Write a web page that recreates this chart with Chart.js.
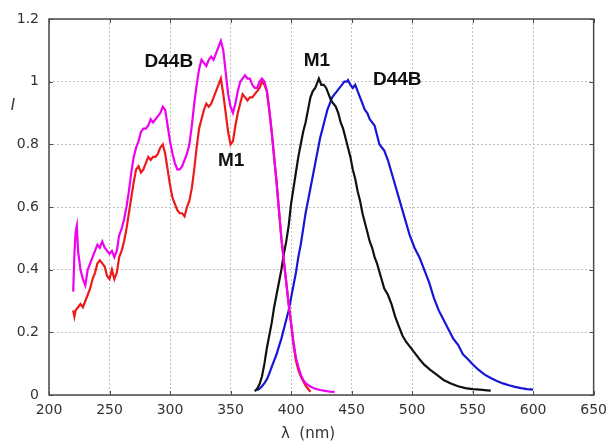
<!DOCTYPE html>
<html>
<head>
<meta charset="utf-8">
<script src="https://cdn.jsdelivr.net/npm/chart.js@4"></script>
<style>
    html, body { margin: 0; padding: 0; background: #fff; }
    #wrap { width: 614px; height: 443px; }
</style>
</head>
<body>
<div id="wrap"><canvas id="spectra" width="614" height="443"></canvas></div>
<script>
// M1 excitation (red)
const m1ExWl = [220,221,222,224,226,228,230,232,234,236,238,240,242,244,246,248,250,252,254,256,258,260,262,264,266,268,270,272,274,276,278,280,282,284,286,288,290,292,294,296,298,300,302,304,306,308,310,312,314,316,318,320,322,324,326,328,330,332,334,336,338,340,342,344,346,348,350,352,354,356,358,360,362,364,366,368,370,372,374,376,378,380,382,384,386,388,390,392,394,396,398,400,402,404,406,408,410,412,414,416];
const m1ExI = [0.27,0.25,0.27,0.28,0.29,0.28,0.30,0.32,0.34,0.37,
    0.39,0.42,0.43,0.42,0.41,0.38,0.37,0.40,0.37,0.39,
    0.44,0.46,0.49,0.53,0.58,0.63,0.68,0.72,0.73,0.71,
    0.72,0.74,0.76,0.75,0.76,0.76,0.77,0.79,0.80,0.77,
    0.72,0.67,0.63,0.61,0.59,0.58,0.58,0.57,0.60,0.62,
    0.66,0.72,0.79,0.85,0.88,0.91,0.93,0.92,0.93,0.95,
    0.97,0.99,1.01,0.96,0.90,0.84,0.80,0.81,0.86,0.90,
    0.93,0.96,0.95,0.94,0.95,0.95,0.96,0.97,0.98,1.00,
    0.99,0.97,0.91,0.84,0.76,0.68,0.59,0.50,0.43,0.36,
    0.29,0.23,0.16,0.11,0.08,0.06,0.045,0.03,0.02,0.01];

// D44B excitation (magenta)
const d44bExWl = [220,221,222,223,224,226,228,230,232,234,236,238,240,242,244,246,248,250,252,254,256,258,260,262,264,266,268,270,272,274,276,278,280,282,284,286,288,290,292,294,296,298,300,302,304,306,308,310,312,314,316,318,320,322,324,326,328,330,332,334,336,338,340,342,344,346,348,350,352,354,356,358,360,362,364,366,368,370,372,374,376,378,380,382,384,386,388,390,392,394,396,398,400,402,404,406,408,410,412,414,416,418,420,424,428,432,436];
const d44bExI = [0.33,0.45,0.52,0.54,0.46,0.40,0.37,0.35,0.40,0.42,
    0.44,0.46,0.48,0.47,0.49,0.47,0.46,0.45,0.46,0.44,
    0.46,0.51,0.53,0.56,0.60,0.65,0.71,0.76,0.79,0.81,
    0.84,0.85,0.85,0.86,0.88,0.87,0.88,0.89,0.90,0.92,
    0.91,0.86,0.81,0.77,0.74,0.72,0.72,0.73,0.75,0.77,
    0.80,0.86,0.93,0.99,1.04,1.07,1.06,1.05,1.07,1.08,
    1.07,1.09,1.11,1.13,1.10,1.03,0.96,0.92,0.90,0.93,
    0.97,1.00,1.01,1.02,1.01,1.01,0.99,0.98,0.98,1.00,
    1.01,1.00,0.97,0.91,0.84,0.76,0.68,0.59,0.50,0.43,
    0.36,0.29,0.23,0.17,0.12,0.09,0.065,0.048,0.038,0.032,
    0.027,0.023,0.02,0.016,0.013,0.011,0.01];

// M1 emission (black)
const m1EmWl = [370,372,374,376,378,380,382,384,386,388,390,392,394,396,398,400,402,404,406,408,410,412,414,416,418,420,422,423,425,427,429,431,433,435,437,439,441,443,445,447,449,451,453,455,457,459,461,463,465,467,469,471,474,477,480,483,486,489,492,495,498,502,506,510,515,520,526,532,538,544,550,556,562,565];
const m1EmI = [0.012,0.02,0.035,0.06,0.10,0.15,0.19,0.23,0.28,0.32,
    0.36,0.40,0.45,0.49,0.54,0.61,0.66,0.71,0.76,0.80,
    0.84,0.87,0.91,0.95,0.97,0.98,1.00,1.01,
    0.99,0.99,0.98,0.96,0.94,0.93,0.92,0.90,0.87,0.85,
    0.82,0.79,0.76,0.72,0.69,0.65,0.62,0.58,0.55,0.52,
    0.49,0.47,0.44,0.42,
    0.38,0.34,0.32,0.29,0.25,0.22,0.19,0.17,0.155,
    0.135,0.115,0.097,0.08,0.066,
    0.048,0.037,0.028,0.022,0.019,0.017,0.015,0.014];

// D44B emission (blue)
const d44bEmWl = [372,374,376,378,380,382,384,386,388,390,392,394,396,398,400,402,404,406,408,410,412,414,416,418,420,422,424,426,428,430,432,434,436,438,440,442,444,446,447,449,451,453,455,457,459,461,463,465,467,469,471,473,475,477,480,483,486,489,492,495,498,502,506,510,514,518,522,526,530,534,538,542,546,550,555,560,565,570,575,580,585,590,595,600];
const d44bEmI = [0.015,0.02,0.028,0.038,0.05,0.068,0.09,0.11,0.13,0.155,
    0.18,0.21,0.24,0.27,0.31,0.35,0.39,0.44,0.48,0.53,
    0.58,0.62,0.66,0.70,0.74,0.78,0.82,0.85,0.88,0.91,
    0.93,0.95,0.96,0.97,0.98,0.99,1.00,1.00,
    1.005,0.99,0.98,0.99,0.97,0.95,0.93,0.91,0.90,0.88,
    0.87,0.86,0.83,0.80,0.79,0.78,
    0.75,0.71,0.67,0.63,0.59,0.55,0.51,
    0.47,0.44,0.40,0.36,0.31,0.27,0.24,0.21,0.18,0.16,0.13,0.115,0.098,
    0.08,0.065,0.054,0.045,0.037,0.031,0.026,0.022,0.019,0.017];

const xTicks = [200, 250, 300, 350, 400, 450, 500, 550, 600, 650];
const yTicks = [0, 0.2, 0.4, 0.6, 0.8, 1, 1.2];

// curve labels, placed in data units
const curveLabels = [
    { text: 'D44B', x: 299, y: 1.064 },
    { text: 'M1', x: 350.5, y: 0.747 },
    { text: 'M1', x: 421.3, y: 1.066 },
    { text: 'D44B', x: 487.7, y: 1.005 }
];

function toPoints(wl, vals) {
    return wl.map((w, i) => ({ x: w, y: vals[i] }));
}

const frameColor = '#4a4a4a';

// full frame, small inward ticks, curve labels and axis titles
const decorations = {
    id: 'decorations',
    afterDatasetsDraw(chart) {
        const ctx = chart.ctx;
        const a = chart.chartArea;
        const xs = chart.scales.x;
        const ys = chart.scales.y;
        ctx.save();
        ctx.setLineDash([]);
        ctx.strokeStyle = frameColor;
        ctx.lineWidth = 1.5;
        ctx.strokeRect(a.left, a.top, a.right - a.left, a.bottom - a.top);

        ctx.lineWidth = 1;
        ctx.beginPath();
        xTicks.forEach(v => {
            const px = Math.round(xs.getPixelForValue(v)) + 0.5;
            ctx.moveTo(px, a.bottom); ctx.lineTo(px, a.bottom - 4);
            ctx.moveTo(px, a.top); ctx.lineTo(px, a.top + 4);
        });
        yTicks.forEach(v => {
            const py = Math.round(ys.getPixelForValue(v)) + 0.5;
            ctx.moveTo(a.left, py); ctx.lineTo(a.left + 4, py);
            ctx.moveTo(a.right, py); ctx.lineTo(a.right - 4, py);
        });
        ctx.stroke();

        ctx.fillStyle = '#111';
        ctx.font = 'bold 19px "Liberation Sans", Arial, sans-serif';
        ctx.textAlign = 'center';
        ctx.textBaseline = 'middle';
        curveLabels.forEach(l => {
            ctx.fillText(l.text, xs.getPixelForValue(l.x), ys.getPixelForValue(l.y));
        });

        ctx.fillStyle = '#333';
        ctx.font = '15px "DejaVu Sans", sans-serif';
        ctx.fillText('\u03bb  (nm)', 308, 434);
        ctx.font = 'italic 15px "DejaVu Sans", sans-serif';
        ctx.fillText('I', 13, 106);
        ctx.restore();
    }
};

const ctx = document.getElementById('spectra').getContext('2d');
new Chart(ctx, {
    type: 'line',
    data: {
        datasets: [
            { label: 'D44B excitation', data: toPoints(d44bExWl, d44bExI), borderColor: '#f000f0' },
            { label: 'M1 excitation', data: toPoints(m1ExWl, m1ExI), borderColor: '#ec1a1a' },
            { label: 'M1 emission', data: toPoints(m1EmWl, m1EmI), borderColor: '#111111' },
            { label: 'D44B emission', data: toPoints(d44bEmWl, d44bEmI), borderColor: '#1616d6' }
        ]
    },
    options: {
        responsive: false,
        animation: false,
        devicePixelRatio: 1,
        datasets: {
            line: { borderWidth: 2.2, pointRadius: 0, tension: 0, fill: false }
        },
        layout: { padding: { top: 19, right: 15, left: 0, bottom: 0 } },
        plugins: {
            legend: { display: false },
            tooltip: { enabled: false }
        },
        scales: {
            x: {
                type: 'linear',
                min: 200,
                max: 650,
                afterBuildTicks: s => { s.ticks = xTicks.map(v => ({ value: v })); },
                afterFit: s => { s.height = 48; },
                ticks: {
                    color: '#333',
                    padding: 7,
                    maxRotation: 0,
                    font: { family: 'DejaVu Sans', size: 14 },
                    callback: v => String(v)
                },
                grid: { color: '#c2c2c2', lineWidth: 1, drawTicks: false },
                border: { display: false, dash: [2, 2] }
            },
            y: {
                min: 0,
                max: 1.2,
                afterBuildTicks: s => { s.ticks = yTicks.map(v => ({ value: v })); },
                afterFit: s => { s.width = 49; },
                ticks: {
                    color: '#333',
                    padding: 10,
                    font: { family: 'DejaVu Sans', size: 14 },
                    callback: v => String(+v.toFixed(1))
                },
                grid: { color: '#c2c2c2', lineWidth: 1, drawTicks: false },
                border: { display: false, dash: [2, 2] }
            }
        }
    },
    plugins: [decorations]
});
</script>
</body>
</html>
